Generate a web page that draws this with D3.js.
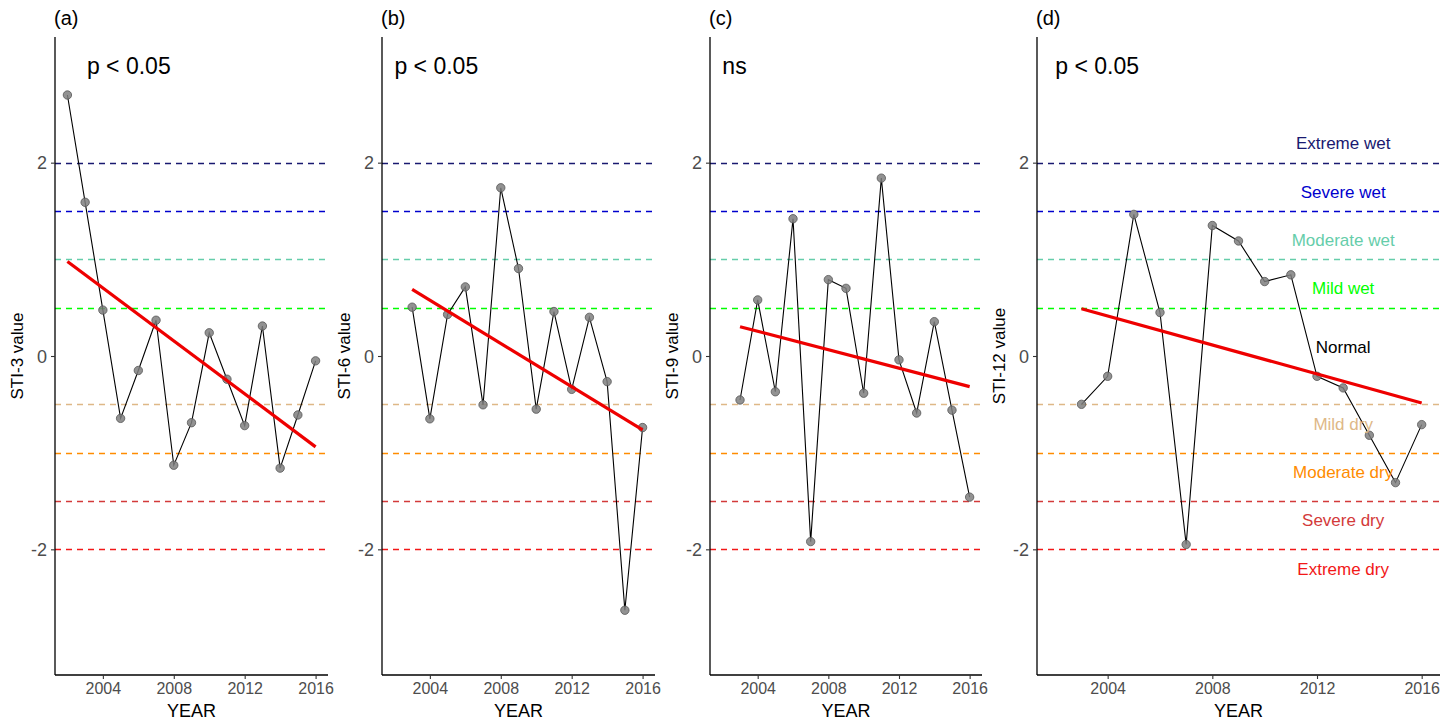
<!DOCTYPE html>
<html>
<head>
<meta charset="utf-8">
<script src="https://cdn.jsdelivr.net/npm/d3@7"></script>
<style>
  body { margin: 0; background: #fff; }
  svg text { font-family: "Liberation Sans", Arial, sans-serif; }
</style>
</head>
<body>
<div id="chart"></div>
<script>
// years
const yearsA = [2002, 2003, 2004, 2005, 2006, 2007, 2008, 2009, 2010, 2011, 2012, 2013, 2014, 2015, 2016];
const yearsBCD = [2003, 2004, 2005, 2006, 2007, 2008, 2009, 2010, 2011, 2012, 2013, 2014, 2015, 2016];

// STI values
const sti3 = [2.70, 1.59, 0.475, -0.645, -0.15, 0.37, -1.13, -0.69, 0.24, -0.24, -0.72, 0.31, -1.16, -0.61, -0.05];
const sti6 = [0.505, -0.65, 0.43, 0.715, -0.505, 1.74, 0.905, -0.55, 0.46, -0.345, 0.40, -0.265, -2.63, -0.74];
const sti9 = [-0.455, 0.58, -0.37, 1.42, -1.92, 0.79, 0.70, -0.385, 1.84, -0.04, -0.59, 0.355, -0.56, -1.46];
const sti12 = [-0.50, -0.21, 1.465, 0.45, -1.95, 1.35, 1.19, 0.77, 0.84, -0.21, -0.33, -0.82, -1.31, -0.71];

const panelTags = ["(a)", "(b)", "(c)", "(d)"];
const yLabels = ["STI-3 value", "STI-6 value", "STI-9 value", "STI-12 value"];
const pLabels = ["p < 0.05", "p < 0.05", "ns", "p < 0.05"];
const pLabelYear = [2003.1, 2002, 2002, 2002];

// drought / wetness thresholds
const thresholds = [2, 1.5, 1, 0.5, -0.5, -1, -1.5, -2];
const thresholdColors = ["#191970", "#0000CD", "#66CDAA", "#00FF00", "#DEB887", "#FF8C00", "#D33A3A", "#F21818"];

// class labels shown in panel (d)
const classNames = ["Extreme wet", "Severe wet", "Moderate wet", "Mild wet", "Normal", "Mild dry", "Moderate dry", "Severe dry", "Extreme dry"];
const classY = [2.2, 1.7, 1.2, 0.7, 0.09, -0.7, -1.2, -1.7, -2.2];
const classColors = ["#191970", "#0000CD", "#66CDAA", "#00FF00", "#000000", "#DEB887", "#FF8C00", "#D33A3A", "#F21818"];
const classYear = 2013;

const yTicks = [-2, 0, 2];
const xTicks = [2004, 2008, 2012, 2016];

const width = 1453, height = 723;
const panelTop = 37, panelBottom = 675;

const panels = [
  { years: yearsA, values: sti3, left: 55, right: 328 },
  { years: yearsBCD, values: sti6, left: 382, right: 655 },
  { years: yearsBCD, values: sti9, left: 710, right: 982 },
  { years: yearsBCD, values: sti12, left: 1037, right: 1440 }
];

const svg = d3.select("#chart").append("svg")
  .attr("width", width)
  .attr("height", height);

// simple least squares fit, like geom_smooth(method = "lm")
function linFit(xs, ys) {
  const mx = d3.mean(xs), my = d3.mean(ys);
  let sxy = 0, sxx = 0;
  xs.forEach((x, i) => { sxy += (x - mx) * (ys[i] - my); sxx += (x - mx) * (x - mx); });
  const b = sxy / sxx;
  return x => my + b * (x - mx);
}

panels.forEach((p, i) => {
  const x = d3.scaleLinear().domain([2001.3, 2016.7]).range([p.left, p.right]);
  const y = d3.scaleLinear().domain([-3.3, 3.3]).range([panelBottom, panelTop]);
  const g = svg.append("g");

  // threshold lines
  g.selectAll("line.thr")
    .data(thresholds)
    .enter()
    .append("line")
    .attr("class", "thr")
    .attr("x1", p.left)
    .attr("x2", p.right)
    .attr("y1", d => Math.round(y(d)) + 0.5)
    .attr("y2", d => Math.round(y(d)) + 0.5)
    .attr("stroke", (d, k) => thresholdColors[k])
    .attr("stroke-width", 1.7)
    .attr("stroke-dasharray", "6,5");

  const pts = p.years.map((yr, k) => ({ yr: yr, v: p.values[k] }));

  // series line
  g.append("path")
    .datum(pts)
    .attr("fill", "none")
    .attr("stroke", "#000")
    .attr("stroke-width", 1.1)
    .attr("d", d3.line().x(d => x(d.yr)).y(d => y(d.v)));

  // points
  g.selectAll("circle")
    .data(pts)
    .enter()
    .append("circle")
    .attr("cx", d => x(d.yr))
    .attr("cy", d => y(d.v))
    .attr("r", 4.2)
    .attr("fill", "#7f7f7f")
    .attr("fill-opacity", 0.85)
    .attr("stroke", "#555")
    .attr("stroke-width", 0.8);

  // trend line
  const fit = linFit(p.years, p.values);
  const x0 = d3.min(p.years), x1 = d3.max(p.years);
  g.append("line")
    .attr("x1", x(x0))
    .attr("y1", y(fit(x0)))
    .attr("x2", x(x1))
    .attr("y2", y(fit(x1)))
    .attr("stroke", "#ee0000")
    .attr("stroke-width", 3.2);

  // axes
  const yAxis = g.append("g")
    .attr("transform", "translate(" + p.left + ",0)")
    .call(d3.axisLeft(y).tickValues(yTicks).tickSize(4).tickPadding(4).tickFormat(d => String(d)));
  yAxis.select(".domain").attr("d", "M0," + panelTop + "V" + panelBottom).attr("stroke", "#000").attr("stroke-width", 1.3);
  yAxis.selectAll(".tick line").attr("stroke", "#333").attr("stroke-width", 1.1);
  yAxis.selectAll(".tick text").attr("font-size", 18).attr("fill", "#4d4d4d").attr("dy", "0.35em");

  const xAxis = g.append("g")
    .attr("transform", "translate(0," + panelBottom + ")")
    .call(d3.axisBottom(x).tickValues(xTicks).tickSize(4).tickPadding(4).tickFormat(d => String(d)));
  xAxis.select(".domain").attr("d", "M" + p.left + ",0H" + p.right).attr("stroke", "#000").attr("stroke-width", 1.3);
  xAxis.selectAll(".tick line").attr("stroke", "#333").attr("stroke-width", 1.1);
  xAxis.selectAll(".tick text").attr("font-size", 16).attr("fill", "#4d4d4d");

  // axis titles
  g.append("text")
    .attr("x", (p.left + p.right) / 2)
    .attr("y", 717)
    .attr("text-anchor", "middle")
    .attr("font-size", 18)
    .attr("fill", "#000")
    .text("YEAR");

  g.append("text")
    .attr("transform", "translate(" + (p.left - 32) + "," + y(0) + ") rotate(-90)")
    .attr("text-anchor", "middle")
    .attr("font-size", 17)
    .attr("fill", "#000")
    .text(yLabels[i]);

  // panel tag
  g.append("text")
    .attr("x", p.left - 1)
    .attr("y", 25)
    .attr("font-size", 20)
    .attr("fill", "#000")
    .text(panelTags[i]);

  // significance label
  g.append("text")
    .attr("x", x(pLabelYear[i]))
    .attr("y", y(3.0))
    .attr("dy", "0.35em")
    .attr("font-size", 23)
    .attr("fill", "#000")
    .text(pLabels[i]);

  // class labels only on last panel
  if (i === 3) {
    g.selectAll("text.cls")
      .data(classNames)
      .enter()
      .append("text")
      .attr("class", "cls")
      .attr("x", x(classYear))
      .attr("y", (d, k) => y(classY[k]))
      .attr("dy", "0.35em")
      .attr("text-anchor", "middle")
      .attr("font-size", 17)
      .attr("fill", (d, k) => classColors[k])
      .text(d => d);
  }
});
</script>
</body>
</html>
